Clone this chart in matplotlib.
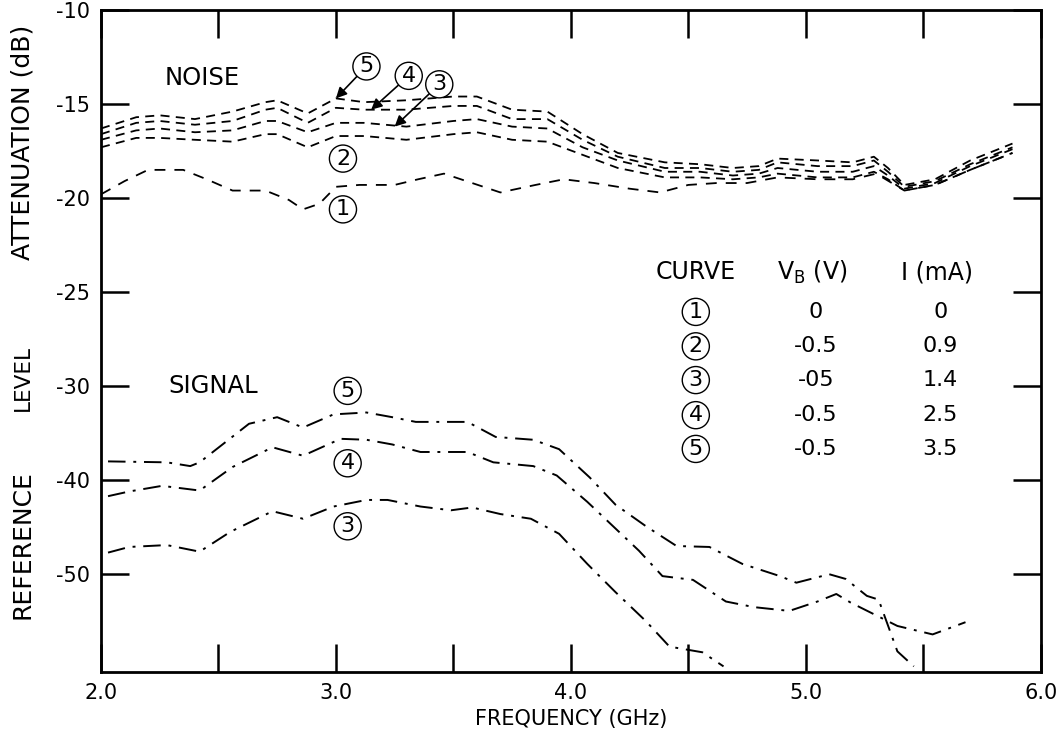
import numpy as np
import matplotlib
matplotlib.use('Agg')
import matplotlib.pyplot as plt

plt.rcParams['font.family'] = ['DejaVu Sans']

# frequence (GHz) des courbes de bruit
f_noise = [2.0, 2.15, 2.25, 2.4, 2.56, 2.7, 2.75, 2.88, 3.0, 3.12, 3.3, 3.5, 3.6, 3.75, 3.9,
           4.05, 4.2, 4.4, 4.55, 4.69, 4.8, 4.88, 5.05, 5.2, 5.29, 5.35, 5.42, 5.55, 5.7, 5.88]
noise5 = [-16.3, -15.7, -15.6, -15.8, -15.4, -14.9, -14.8, -15.5, -14.7, -14.9, -14.8, -14.6, -14.6, -15.3, -15.4,
          -16.6, -17.6, -18.1, -18.2, -18.4, -18.3, -17.9, -18.0, -18.1, -17.8, -18.4, -19.3, -19.0, -18.0, -17.1]
noise4 = [-16.6, -16.0, -15.9, -16.1, -15.9, -15.3, -15.2, -16.0, -15.2, -15.3, -15.3, -15.1, -15.1, -15.8, -15.8,
          -16.9, -17.8, -18.4, -18.4, -18.6, -18.5, -18.1, -18.3, -18.3, -18.0, -18.6, -19.4, -19.1, -18.2, -17.3]
noise3 = [-16.9, -16.4, -16.3, -16.5, -16.4, -15.9, -15.9, -16.5, -16.0, -16.0, -16.2, -15.9, -15.8, -16.2, -16.3,
          -17.3, -18.0, -18.6, -18.6, -18.8, -18.7, -18.4, -18.6, -18.6, -18.3, -18.8, -19.5, -19.2, -18.3, -17.4]
noise2 = [-17.3, -16.8, -16.8, -16.9, -17.0, -16.6, -16.6, -17.3, -16.7, -16.7, -16.9, -16.6, -16.5, -16.9, -17.0,
          -17.7, -18.4, -18.9, -18.9, -19.0, -18.9, -18.7, -18.9, -18.9, -18.6, -19.0, -19.6, -19.3, -18.5, -17.6]

f_noise1 = [2.0, 2.1, 2.2, 2.35, 2.45, 2.56, 2.7, 2.8, 2.86, 2.93, 3.0, 3.1, 3.25, 3.35, 3.46, 3.58, 3.7,
            3.85, 3.97, 4.1, 4.25, 4.38, 4.5, 4.62, 4.75, 4.88, 5.05, 5.2, 5.3, 5.42, 5.55, 5.7, 5.88]
noise1 = [-19.8, -19.1, -18.5, -18.5, -19.0, -19.6, -19.6, -20.1, -20.6, -20.3, -19.4, -19.3, -19.3, -19.0, -18.7, -19.2, -19.7,
          -19.3, -19.0, -19.2, -19.5, -19.7, -19.3, -19.2, -19.2, -18.9, -19.0, -19.0, -18.7, -19.6, -19.3, -18.5, -17.6]

# courbes de signal
f_sig5 = [2.03, 2.28, 2.38, 2.42, 2.63, 2.75, 2.86, 2.99, 3.13, 3.24, 3.34, 3.56, 3.68, 3.84, 3.95,
          4.08, 4.19, 4.32, 4.45, 4.59, 4.73, 4.89, 4.96, 5.10, 5.17, 5.26, 5.31, 5.39, 5.46]
sig5 = [-38.0, -38.1, -38.5, -38.1, -34.0, -33.3, -34.4, -33.0, -32.8, -33.3, -33.8, -33.8, -35.4, -35.7, -36.7,
        -39.7, -42.6, -44.9, -47.0, -47.1, -48.9, -50.2, -50.9, -50.0, -50.5, -52.3, -52.7, -58.2, -59.8]

f_sig4 = [2.03, 2.12, 2.26, 2.42, 2.56, 2.73, 2.86, 3.02, 3.13, 3.24, 3.36, 3.56, 3.67, 3.84, 3.94,
          4.07, 4.18, 4.29, 4.39, 4.52, 4.66, 4.78, 4.93, 5.05, 5.13, 5.19, 5.31, 5.39, 5.54, 5.68]
sig4 = [-41.7, -41.2, -40.6, -41.1, -38.6, -36.5, -37.4, -35.6, -35.7, -36.2, -37.0, -37.0, -38.1, -38.5, -39.5,
        -42.3, -44.9, -47.5, -50.2, -50.6, -52.9, -53.5, -53.9, -52.9, -52.1, -53.0, -54.5, -55.5, -56.4, -55.1]

f_sig3 = [2.03, 2.12, 2.28, 2.42, 2.55, 2.73, 2.86, 2.99, 3.13, 3.22, 3.36, 3.49, 3.58, 3.70, 3.83, 3.95,
          4.07, 4.19, 4.32, 4.42, 4.56, 4.65]
sig3 = [-47.7, -47.1, -46.9, -47.6, -45.5, -43.3, -44.1, -42.8, -42.1, -42.1, -42.8, -43.2, -42.9, -43.6, -44.1, -45.7,
        -48.9, -51.9, -55.0, -57.7, -58.3, -59.8]

# tableau
table_curves = ['1', '2', '3', '4', '5']
table_vb = ['0', '-0.5', '-05', '-0.5', '-0.5']
table_i = ['0', '0.9', '1.4', '2.5', '3.5']

y_ticks = [-10, -15, -20, -25, -30, -40, -50]
x_ticks = [2.0, 2.5, 3.0, 3.5, 4.0, 4.5, 5.0, 5.5, 6.0]


def forward(v):
    v = np.asarray(v, dtype=float)
    return np.where(v >= -30, v / 5., -6. + (v + 30.) / 10.)


def inverse(u):
    u = np.asarray(u, dtype=float)
    return np.where(u >= -6, u * 5., (u + 6.) * 10. - 30.)


fig = plt.figure(figsize=(10.63, 7.42), dpi=100)
ax = fig.add_axes([0.095, 0.0943, 0.884, 0.8922])
ax.set_yscale('function', functions=(forward, inverse))

fs = 15
circ = dict(boxstyle='circle,pad=0.16', fc='white', ec='black', lw=1.0)

# bruit
dash = (0, (5, 3.5))
for y in [noise5, noise4, noise3, noise2]:
    ax.plot(f_noise, y, color='black', lw=1.3, linestyle=dash)
ax.plot(f_noise1, noise1, color='black', lw=1.3, linestyle=(0, (6, 5)))

# signal
dashdot = (0, (9, 4, 1.5, 4))
ax.plot(f_sig5, sig5, color='black', lw=1.4, linestyle=dashdot)
ax.plot(f_sig4, sig4, color='black', lw=1.4, linestyle=dashdot)
ax.plot(f_sig3, sig3, color='black', lw=1.4, linestyle=dashdot)

ax.set_xlim(2.0, 6.0)
ax.set_ylim(-60.4, -10)
ax.set_xticks(x_ticks)
ax.set_xticklabels(['2.0', '', '3.0', '', '4.0', '', '5.0', '', '6.0'])
ax.set_yticks(y_ticks)
ax.set_yticklabels([str(t) for t in y_ticks])
ax.minorticks_off()
ax.tick_params(direction='in', length=20, width=1.8, top=True, right=True,
               labelsize=fs, pad=8)
for s in ax.spines.values():
    s.set_linewidth(2)

ax.text(2.27, -13.6, 'NOISE', fontsize=17.5, va='center', ha='left')
ax.text(2.285, -30.0, 'SIGNAL', fontsize=17.5, va='center', ha='left')

# numeros entoures
ax.annotate('5', xy=(3.0, -14.7), xytext=(3.13, -13.0), fontsize=16, ha='center', va='center', bbox=circ,
            arrowprops=dict(arrowstyle='-|>', color='black', lw=1.2, shrinkA=0, shrinkB=0))
ax.annotate('4', xy=(3.15, -15.3), xytext=(3.31, -13.5), fontsize=16, ha='center', va='center', bbox=circ,
            arrowprops=dict(arrowstyle='-|>', color='black', lw=1.2, shrinkA=0, shrinkB=0))
ax.annotate('3', xy=(3.25, -16.2), xytext=(3.44, -13.95), fontsize=16, ha='center', va='center', bbox=circ,
            arrowprops=dict(arrowstyle='-|>', color='black', lw=1.2, shrinkA=0, shrinkB=0))
ax.text(3.03, -17.9, '2', fontsize=16, ha='center', va='center', bbox=circ)
ax.text(3.03, -20.6, '1', fontsize=16, ha='center', va='center', bbox=circ)
ax.text(3.05, -30.5, '5', fontsize=16, ha='center', va='center', bbox=circ)
ax.text(3.05, -38.2, '4', fontsize=16, ha='center', va='center', bbox=circ)
ax.text(3.05, -44.9, '3', fontsize=16, ha='center', va='center', bbox=circ)

# tableau des courbes
ax.text(0.633, 0.604, 'CURVE', transform=ax.transAxes, fontsize=17, ha='center', va='center')
ax.text(0.757, 0.604, r'V$_{\mathregular{B}}$ (V)', transform=ax.transAxes, fontsize=17, ha='center', va='center')
ax.text(0.890, 0.604, 'I (mA)', transform=ax.transAxes, fontsize=17, ha='center', va='center')
rows_y = [0.544, 0.492, 0.441, 0.388, 0.337]
for i in range(5):
    ax.text(0.633, rows_y[i], table_curves[i], transform=ax.transAxes, fontsize=16,
            ha='center', va='center', bbox=circ)
    ax.text(0.761, rows_y[i], table_vb[i], transform=ax.transAxes, fontsize=16, ha='center', va='center')
    ax.text(0.893, rows_y[i], table_i[i], transform=ax.transAxes, fontsize=16, ha='center', va='center')

ax.set_xlabel('FREQUENCY (GHz)', fontsize=fs, labelpad=4)

fig.text(0.0215, 1 - 142/742., 'ATTENUATION (dB)', rotation=90, fontsize=18, ha='center', va='center')
fig.text(0.0215, 1 - 378/742., 'LEVEL', rotation=90, fontsize=15.5, ha='center', va='center')
fig.text(0.0215, 1 - 545/742., 'REFERENCE', rotation=90, fontsize=18, ha='center', va='center')

fig.savefig('out.png', dpi=100)
